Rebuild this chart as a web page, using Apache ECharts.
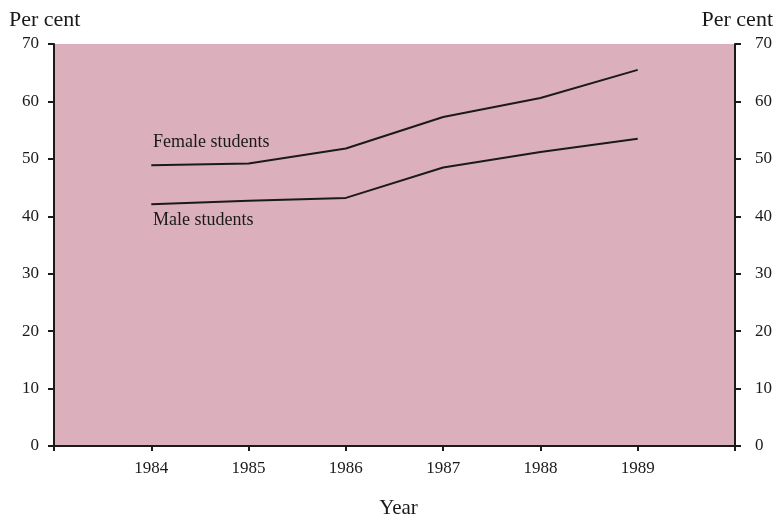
<!DOCTYPE html>
<html>
<head>
<meta charset="utf-8">
<script src="https://cdn.jsdelivr.net/npm/echarts@6/dist/echarts.min.js"></script>
<style>
  html, body { margin: 0; padding: 0; background: #fff; }
  #chart { width: 777px; height: 518px; }
</style>
</head>
<body>
<div id="chart"></div>
<script>
const years = [1984, 1985, 1986, 1987, 1988, 1989];
const female = [48.9, 49.2, 51.8, 57.3, 60.6, 65.5];
const male = [42.1, 42.7, 43.2, 48.5, 51.2, 53.5];
const seriesNames = ['Female students', 'Male students'];

const font = 'Liberation Serif';
const ink = '#1a1a1a';

function pairs(vals) {
  return years.map((y, i) => [y, vals[i]]);
}

const chart = echarts.init(document.getElementById('chart'));

function yAxisCfg(pos) {
  return {
    type: 'value',
    position: pos,
    min: 0,
    max: 70,
    interval: 10,
    splitLine: { show: false },
    axisLine: { show: true, lineStyle: { color: ink, width: 2 } },
    axisTick: { show: true, inside: false, length: 6, lineStyle: { color: ink, width: 2 } },
    axisLabel: { color: ink, fontFamily: font, fontSize: 17, margin: pos === 'left' ? 15 : 20 }
  };
}

const option = {
  animation: false,
  backgroundColor: '#fff',
  grid: {
    left: 54, right: 42, top: 44, bottom: 72,
    containLabel: false,
    outerBoundsMode: 'none',
    show: true,
    backgroundColor: '#dbb0bc',
    borderWidth: 0
  },
  xAxis: {
    type: 'value',
    min: 1983,
    max: 1990,
    interval: 1,
    name: 'Year',
    nameLocation: 'middle',
    nameGap: 52,
    nameTextStyle: { color: ink, fontFamily: font, fontSize: 21, padding: [0, 0, 0, 8] },
    splitLine: { show: false },
    axisLine: { onZero: false, lineStyle: { color: ink, width: 2 } },
    axisTick: { show: true, length: 5, lineStyle: { color: ink, width: 2 } },
    axisLabel: {
      color: ink, fontFamily: font, fontSize: 17, margin: 14,
      formatter: v => (years.indexOf(v) >= 0 ? String(v) : '')
    }
  },
  yAxis: [yAxisCfg('left'), yAxisCfg('right')],
  series: [
    {
      name: seriesNames[0], type: 'line', data: pairs(female),
      symbol: 'none', lineStyle: { color: ink, width: 2 }
    },
    {
      name: seriesNames[1], type: 'line', data: pairs(male),
      symbol: 'none', lineStyle: { color: ink, width: 2 }
    }
  ],
  graphic: [
    { type: 'text', left: 9, top: 9, style: { text: 'Per cent', font: '22px "Liberation Serif"', fill: ink } },
    { type: 'text', right: 4, top: 9, style: { text: 'Per cent', font: '22px "Liberation Serif"', fill: ink } },
    { type: 'text', left: 153, top: 133, style: { text: seriesNames[0], font: '18px "Liberation Serif"', fill: ink } },
    { type: 'text', left: 153, top: 211, style: { text: seriesNames[1], font: '18px "Liberation Serif"', fill: ink } }
  ]
};

chart.setOption(option);
</script>
</body>
</html>
